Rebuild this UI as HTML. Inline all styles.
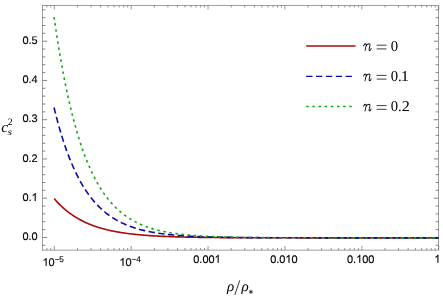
<!DOCTYPE html><html><head><meta charset="utf-8"><title>plot</title><style>html,body{margin:0;padding:0;background:#fff;overflow:hidden}svg{display:block}text{font-family:"Liberation Sans",sans-serif;text-rendering:geometricPrecision;stroke:#000;stroke-width:0.15px}.s{stroke:none}.s{font-family:"Liberation Serif",serif}</style></head><body>
<svg width="443" height="298" viewBox="0 0 443 298">
<defs><filter id="b" x="-5%" y="-5%" width="110%" height="110%" color-interpolation-filters="sRGB"><feGaussianBlur stdDeviation="0.35"/></filter>
<filter id="b2" x="-5%" y="-5%" width="110%" height="110%" color-interpolation-filters="sRGB"><feGaussianBlur stdDeviation="0.2"/></filter>
<clipPath id="c"><rect x="42.50" y="5.40" width="396.60" height="244.70"/></clipPath></defs>
<rect width="443" height="298" fill="#fff"/>
<g>
<path d="M42.50 245.30h2.90M438.50 245.30h-2.90M42.50 237.45h4.60M438.50 237.45h-4.60M42.50 229.60h2.90M438.50 229.60h-2.90M42.50 221.75h2.90M438.50 221.75h-2.90M42.50 213.90h2.90M438.50 213.90h-2.90M42.50 206.05h2.90M438.50 206.05h-2.90M42.50 198.20h4.60M438.50 198.20h-4.60M42.50 190.35h2.90M438.50 190.35h-2.90M42.50 182.50h2.90M438.50 182.50h-2.90M42.50 174.65h2.90M438.50 174.65h-2.90M42.50 166.80h2.90M438.50 166.80h-2.90M42.50 158.95h4.60M438.50 158.95h-4.60M42.50 151.10h2.90M438.50 151.10h-2.90M42.50 143.25h2.90M438.50 143.25h-2.90M42.50 135.40h2.90M438.50 135.40h-2.90M42.50 127.55h2.90M438.50 127.55h-2.90M42.50 119.70h4.60M438.50 119.70h-4.60M42.50 111.85h2.90M438.50 111.85h-2.90M42.50 104.00h2.90M438.50 104.00h-2.90M42.50 96.15h2.90M438.50 96.15h-2.90M42.50 88.30h2.90M438.50 88.30h-2.90M42.50 80.45h4.60M438.50 80.45h-4.60M42.50 72.60h2.90M438.50 72.60h-2.90M42.50 64.75h2.90M438.50 64.75h-2.90M42.50 56.90h2.90M438.50 56.90h-2.90M42.50 49.05h2.90M438.50 49.05h-2.90M42.50 41.20h4.60M438.50 41.20h-4.60M42.50 33.35h2.90M438.50 33.35h-2.90M42.50 25.50h2.90M438.50 25.50h-2.90M42.50 17.65h2.90M438.50 17.65h-2.90M42.50 9.80h2.90M438.50 9.80h-2.90" stroke="#4c4c4c" stroke-width="0.68" fill="none" filter="url(#b2)"/>
<path d="M46.85 250.10v-2.10M46.85 5.40v2.10M50.78 250.10v-2.10M50.78 5.40v2.10M54.30 250.10v-4.10M54.30 5.40v4.10M77.44 250.10v-2.10M77.44 5.40v2.10M90.98 250.10v-2.10M90.98 5.40v2.10M100.59 250.10v-2.10M100.59 5.40v2.10M108.04 250.10v-2.10M108.04 5.40v2.10M114.12 250.10v-2.10M114.12 5.40v2.10M119.27 250.10v-2.10M119.27 5.40v2.10M123.73 250.10v-2.10M123.73 5.40v2.10M127.66 250.10v-2.10M127.66 5.40v2.10M131.18 250.10v-4.10M131.18 5.40v4.10M154.32 250.10v-2.10M154.32 5.40v2.10M167.86 250.10v-2.10M167.86 5.40v2.10M177.47 250.10v-2.10M177.47 5.40v2.10M184.92 250.10v-2.10M184.92 5.40v2.10M191.00 250.10v-2.10M191.00 5.40v2.10M196.15 250.10v-2.10M196.15 5.40v2.10M200.61 250.10v-2.10M200.61 5.40v2.10M204.54 250.10v-2.10M204.54 5.40v2.10M208.06 250.10v-4.10M208.06 5.40v4.10M231.20 250.10v-2.10M231.20 5.40v2.10M244.74 250.10v-2.10M244.74 5.40v2.10M254.35 250.10v-2.10M254.35 5.40v2.10M261.80 250.10v-2.10M261.80 5.40v2.10M267.88 250.10v-2.10M267.88 5.40v2.10M273.03 250.10v-2.10M273.03 5.40v2.10M277.49 250.10v-2.10M277.49 5.40v2.10M281.42 250.10v-2.10M281.42 5.40v2.10M284.94 250.10v-4.10M284.94 5.40v4.10M308.08 250.10v-2.10M308.08 5.40v2.10M321.62 250.10v-2.10M321.62 5.40v2.10M331.23 250.10v-2.10M331.23 5.40v2.10M338.68 250.10v-2.10M338.68 5.40v2.10M344.76 250.10v-2.10M344.76 5.40v2.10M349.91 250.10v-2.10M349.91 5.40v2.10M354.37 250.10v-2.10M354.37 5.40v2.10M358.30 250.10v-2.10M358.30 5.40v2.10M361.82 250.10v-4.10M361.82 5.40v4.10M384.96 250.10v-2.10M384.96 5.40v2.10M398.50 250.10v-2.10M398.50 5.40v2.10M408.11 250.10v-2.10M408.11 5.40v2.10M415.56 250.10v-2.10M415.56 5.40v2.10M421.64 250.10v-2.10M421.64 5.40v2.10M426.79 250.10v-2.10M426.79 5.40v2.10M431.25 250.10v-2.10M431.25 5.40v2.10M435.18 250.10v-2.10M435.18 5.40v2.10M438.70 250.10v-4.10M438.70 5.40v4.10" stroke="#4c4c4c" stroke-width="0.58" fill="none" filter="url(#b2)"/>
<rect x="42.50" y="5.40" width="396.00" height="244.70" fill="none" stroke="#606060" stroke-width="0.6" filter="url(#b2)"/>
<g filter="url(#b)">
<g clip-path="url(#c)" fill="none" stroke-width="1.6">
<path d="M54.20 198.60 L55.16 199.71 L56.12 200.80 L57.08 201.85 L58.04 202.87 L59.00 203.86 L59.97 204.83 L60.93 205.76 L61.89 206.67 L62.85 207.56 L63.81 208.42 L64.77 209.25 L65.73 210.06 L66.69 210.85 L67.65 211.62 L68.62 212.36 L69.58 213.08 L70.54 213.79 L71.50 214.47 L72.46 215.13 L73.42 215.78 L74.38 216.40 L75.34 217.01 L76.30 217.60 L77.26 218.18 L78.22 218.74 L79.19 219.28 L80.15 219.81 L81.11 220.32 L82.07 220.82 L83.03 221.30 L83.99 221.77 L84.95 222.22 L85.91 222.67 L86.87 223.10 L87.84 223.52 L88.80 223.92 L89.76 224.32 L90.72 224.70 L91.68 225.08 L92.64 225.44 L93.60 225.79 L94.56 226.13 L95.52 226.46 L96.48 226.79 L97.44 227.10 L98.41 227.41 L99.37 227.70 L100.33 227.99 L101.29 228.27 L102.25 228.54 L103.21 228.81 L104.17 229.06 L105.13 229.31 L106.09 229.55 L107.06 229.79 L108.02 230.02 L108.98 230.24 L109.94 230.46 L110.90 230.67 L111.86 230.87 L112.82 231.07 L113.78 231.26 L114.74 231.45 L115.70 231.63 L116.66 231.81 L117.63 231.98 L118.59 232.14 L119.55 232.31 L120.51 232.46 L121.47 232.62 L122.43 232.76 L123.39 232.91 L124.35 233.05 L125.31 233.19 L126.27 233.32 L127.24 233.45 L128.20 233.57 L129.16 233.69 L130.12 233.81 L131.08 233.92 L132.04 234.04 L133.00 234.14 L133.96 234.25 L134.92 234.35 L135.89 234.45 L136.85 234.55 L137.81 234.64 L138.77 234.73 L139.73 234.82 L140.69 234.91 L141.65 234.99 L142.61 235.07 L143.57 235.15 L144.53 235.23 L145.49 235.30 L146.46 235.37 L147.42 235.44 L148.38 235.51 L149.34 235.58 L150.30 235.64 L151.26 235.71 L152.22 235.77 L153.18 235.83 L154.14 235.88 L155.10 235.94 L156.07 235.99 L157.03 236.05 L157.99 236.10 L158.95 236.15 L159.91 236.19 L160.87 236.24 L161.83 236.29 L162.79 236.33 L163.75 236.37 L164.72 236.42 L165.68 236.46 L166.64 236.50 L167.60 236.54 L168.56 236.57 L169.52 236.61 L170.48 236.64 L171.44 236.68 L172.40 236.71 L173.36 236.74 L174.33 236.78 L175.29 236.81 L176.25 236.84 L177.21 236.86 L178.17 236.89 L179.13 236.92 L180.09 236.95 L181.05 236.97 L182.01 237.00 L182.97 237.02 L183.93 237.04 L184.90 237.07 L185.86 237.09 L186.82 237.11 L187.78 237.13 L188.74 237.15 L189.70 237.17 L190.66 237.19 L191.62 237.21 L192.58 237.23 L193.54 237.25 L194.51 237.26 L195.47 237.28 L196.43 237.30 L197.39 237.31 L198.35 237.33 L199.31 237.34 L200.27 237.36 L201.23 237.37 L202.19 237.38 L203.16 237.40 L204.12 237.41 L205.08 237.42 L206.04 237.43 L207.00 237.45 L207.96 237.46 L208.92 237.47 L209.88 237.48 L210.84 237.49 L211.80 237.50 L212.77 237.51 L213.73 237.52 L214.69 237.53 L215.65 237.54 L216.61 237.55 L217.57 237.56 L218.53 237.56 L219.49 237.57 L220.45 237.58 L221.41 237.59 L222.37 237.60 L223.34 237.60 L224.30 237.61 L225.26 237.62 L226.22 237.62 L227.18 237.63 L228.14 237.64 L229.10 237.64 L230.06 237.65 L231.02 237.65 L231.98 237.66 L232.95 237.66 L233.91 237.67 L234.87 237.67 L235.83 237.68 L236.79 237.68 L237.75 237.69 L238.71 237.69 L239.67 237.70 L240.63 237.70 L241.59 237.71 L242.56 237.71 L243.52 237.71 L244.48 237.72 L245.44 237.72 L246.40 237.73 L247.36 237.73 L248.32 237.73 L249.28 237.74 L250.24 237.74 L251.21 237.74 L252.17 237.75 L253.13 237.75 L254.09 237.75 L255.05 237.75 L256.01 237.76 L256.97 237.76 L257.93 237.76 L258.89 237.76 L259.85 237.77 L260.81 237.77 L261.78 237.77 L262.74 237.77 L263.70 237.78 L264.66 237.78 L265.62 237.78 L266.58 237.78 L267.54 237.78 L268.50 237.79 L269.46 237.79 L270.42 237.79 L271.39 237.79 L272.35 237.79 L273.31 237.79 L274.27 237.80 L275.23 237.80 L276.19 237.80 L277.15 237.80 L278.11 237.80 L279.07 237.80 L280.03 237.80 L281.00 237.81 L281.96 237.81 L282.92 237.81 L283.88 237.81 L284.84 237.81 L285.80 237.81 L286.76 237.81 L287.72 237.81 L288.68 237.82 L289.64 237.82 L290.61 237.82 L291.57 237.82 L292.53 237.82 L293.49 237.82 L294.45 237.82 L295.41 237.82 L296.37 237.82 L297.33 237.82 L298.29 237.82 L299.25 237.82 L300.22 237.83 L301.18 237.83 L302.14 237.83 L303.10 237.83 L304.06 237.83 L305.02 237.83 L305.98 237.83 L306.94 237.83 L307.90 237.83 L308.86 237.83 L309.83 237.83 L310.79 237.83 L311.75 237.83 L312.71 237.83 L313.67 237.83 L314.63 237.83 L315.59 237.83 L316.55 237.83 L317.51 237.84 L318.47 237.84 L319.44 237.84 L320.40 237.84 L321.36 237.84 L322.32 237.84 L323.28 237.84 L324.24 237.84 L325.20 237.84 L326.16 237.84 L327.12 237.84 L328.08 237.84 L329.05 237.84 L330.01 237.84 L330.97 237.84 L331.93 237.84 L332.89 237.84 L333.85 237.84 L334.81 237.84 L335.77 237.84 L336.73 237.84 L337.69 237.84 L338.66 237.84 L339.62 237.84 L340.58 237.84 L341.54 237.84 L342.50 237.84 L343.46 237.84 L344.42 237.84 L345.38 237.84 L346.34 237.84 L347.30 237.84 L348.27 237.84 L349.23 237.84 L350.19 237.84 L351.15 237.84 L352.11 237.84 L353.07 237.84 L354.03 237.85 L354.99 237.85 L355.95 237.85 L356.91 237.85 L357.88 237.85 L358.84 237.85 L359.80 237.85 L360.76 237.85 L361.72 237.85 L362.68 237.85 L363.64 237.85 L364.60 237.85 L365.56 237.85 L366.52 237.85 L367.49 237.85 L368.45 237.85 L369.41 237.85 L370.37 237.85 L371.33 237.85 L372.29 237.85 L373.25 237.85 L374.21 237.85 L375.17 237.85 L376.13 237.85 L377.10 237.85 L378.06 237.85 L379.02 237.85 L379.98 237.85 L380.94 237.85 L381.90 237.85 L382.86 237.85 L383.82 237.85 L384.78 237.85 L385.74 237.85 L386.71 237.85 L387.67 237.85 L388.63 237.85 L389.59 237.85 L390.55 237.85 L391.51 237.85 L392.47 237.85 L393.43 237.85 L394.39 237.85 L395.35 237.85 L396.32 237.85 L397.28 237.85 L398.24 237.85 L399.20 237.85 L400.16 237.85 L401.12 237.85 L402.08 237.85 L403.04 237.85 L404.00 237.85 L404.96 237.85 L405.93 237.85 L406.89 237.85 L407.85 237.85 L408.81 237.85 L409.77 237.85 L410.73 237.85 L411.69 237.85 L412.65 237.85 L413.61 237.85 L414.57 237.85 L415.54 237.85 L416.50 237.85 L417.46 237.85 L418.42 237.85 L419.38 237.85 L420.34 237.85 L421.30 237.85 L422.26 237.85 L423.22 237.85 L424.18 237.85 L425.15 237.85 L426.11 237.85 L427.07 237.85 L428.03 237.85 L428.99 237.85 L429.95 237.85 L430.91 237.85 L431.87 237.85 L432.83 237.85 L433.79 237.85 L434.76 237.85 L435.72 237.85 L436.68 237.85 L437.64 237.85 L438.60 237.85" stroke="#aa0a0a"/>
<path d="M54.01 107.45 L54.20 108.22 L55.16 112.12 L56.12 115.90 L57.08 119.57 L58.04 123.13 L59.00 126.58 L59.97 129.92 L60.93 133.17 L61.89 136.32 L62.85 139.37 L63.81 142.34 L64.77 145.21 L65.73 148.00 L66.69 150.71 L67.65 153.33 L68.62 155.87 L69.58 158.34 L70.54 160.74 L71.50 163.06 L72.46 165.31 L73.42 167.50 L74.38 169.62 L75.34 171.67 L76.30 173.67 L77.26 175.60 L78.22 177.48 L79.19 179.30 L80.15 181.06 L81.11 182.77 L82.07 184.43 L83.03 186.05 L83.99 187.61 L84.95 189.12 L85.91 190.59 L86.87 192.02 L87.84 193.40 L88.80 194.74 L89.76 196.04 L90.72 197.31 L91.68 198.53 L92.64 199.72 L93.60 200.87 L94.56 201.98 L95.52 203.07 L96.48 204.12 L97.44 205.14 L98.41 206.13 L99.37 207.08 L100.33 208.01 L101.29 208.92 L102.25 209.79 L103.21 210.64 L104.17 211.46 L105.13 212.26 L106.09 213.03 L107.06 213.78 L108.02 214.51 L108.98 215.22 L109.94 215.90 L110.90 216.57 L111.86 217.21 L112.82 217.83 L113.78 218.44 L114.74 219.03 L115.70 219.60 L116.66 220.15 L117.63 220.69 L118.59 221.21 L119.55 221.71 L120.51 222.20 L121.47 222.67 L122.43 223.13 L123.39 223.58 L124.35 224.01 L125.31 224.43 L126.27 224.84 L127.24 225.23 L128.20 225.61 L129.16 225.99 L130.12 226.35 L131.08 226.69 L132.04 227.03 L133.00 227.36 L133.96 227.68 L134.92 227.99 L135.89 228.29 L136.85 228.58 L137.81 228.86 L138.77 229.13 L139.73 229.40 L140.69 229.65 L141.65 229.90 L142.61 230.14 L143.57 230.38 L144.53 230.61 L145.49 230.83 L146.46 231.04 L147.42 231.25 L148.38 231.45 L149.34 231.64 L150.30 231.83 L151.26 232.01 L152.22 232.19 L153.18 232.36 L154.14 232.53 L155.10 232.69 L156.07 232.85 L157.03 233.00 L157.99 233.15 L158.95 233.29 L159.91 233.43 L160.87 233.57 L161.83 233.70 L162.79 233.82 L163.75 233.95 L164.72 234.07 L165.68 234.18 L166.64 234.29 L167.60 234.40 L168.56 234.51 L169.52 234.61 L170.48 234.71 L171.44 234.80 L172.40 234.90 L173.36 234.99 L174.33 235.07 L175.29 235.16 L176.25 235.24 L177.21 235.32 L178.17 235.40 L179.13 235.47 L180.09 235.55 L181.05 235.62 L182.01 235.68 L182.97 235.75 L183.93 235.81 L184.90 235.88 L185.86 235.94 L186.82 236.00 L187.78 236.05 L188.74 236.11 L189.70 236.16 L190.66 236.21 L191.62 236.26 L192.58 236.31 L193.54 236.36 L194.51 236.40 L195.47 236.45 L196.43 236.49 L197.39 236.53 L198.35 236.57 L199.31 236.61 L200.27 236.65 L201.23 236.69 L202.19 236.72 L203.16 236.76 L204.12 236.79 L205.08 236.82 L206.04 236.86 L207.00 236.89 L207.96 236.92 L208.92 236.94 L209.88 236.97 L210.84 237.00 L211.80 237.02 L212.77 237.05 L213.73 237.07 L214.69 237.10 L215.65 237.12 L216.61 237.14 L217.57 237.17 L218.53 237.19 L219.49 237.21 L220.45 237.23 L221.41 237.25 L222.37 237.26 L223.34 237.28 L224.30 237.30 L225.26 237.32 L226.22 237.33 L227.18 237.35 L228.14 237.37 L229.10 237.38 L230.06 237.39 L231.02 237.41 L231.98 237.42 L232.95 237.44 L233.91 237.45 L234.87 237.46 L235.83 237.47 L236.79 237.48 L237.75 237.50 L238.71 237.51 L239.67 237.52 L240.63 237.53 L241.59 237.54 L242.56 237.55 L243.52 237.56 L244.48 237.57 L245.44 237.57 L246.40 237.58 L247.36 237.59 L248.32 237.60 L249.28 237.61 L250.24 237.61 L251.21 237.62 L252.17 237.63 L253.13 237.64 L254.09 237.64 L255.05 237.65 L256.01 237.66 L256.97 237.66 L257.93 237.67 L258.89 237.67 L259.85 237.68 L260.81 237.68 L261.78 237.69 L262.74 237.69 L263.70 237.70 L264.66 237.70 L265.62 237.71 L266.58 237.71 L267.54 237.72 L268.50 237.72 L269.46 237.72 L270.42 237.73 L271.39 237.73 L272.35 237.74 L273.31 237.74 L274.27 237.74 L275.23 237.75 L276.19 237.75 L277.15 237.75 L278.11 237.76 L279.07 237.76 L280.03 237.76 L281.00 237.76 L281.96 237.77 L282.92 237.77 L283.88 237.77 L284.84 237.77 L285.80 237.78 L286.76 237.78 L287.72 237.78 L288.68 237.78 L289.64 237.79 L290.61 237.79 L291.57 237.79 L292.53 237.79 L293.49 237.79 L294.45 237.80 L295.41 237.80 L296.37 237.80 L297.33 237.80 L298.29 237.80 L299.25 237.80 L300.22 237.80 L301.18 237.81 L302.14 237.81 L303.10 237.81 L304.06 237.81 L305.02 237.81 L305.98 237.81 L306.94 237.81 L307.90 237.81 L308.86 237.82 L309.83 237.82 L310.79 237.82 L311.75 237.82 L312.71 237.82 L313.67 237.82 L314.63 237.82 L315.59 237.82 L316.55 237.82 L317.51 237.82 L318.47 237.83 L319.44 237.83 L320.40 237.83 L321.36 237.83 L322.32 237.83 L323.28 237.83 L324.24 237.83 L325.20 237.83 L326.16 237.83 L327.12 237.83 L328.08 237.83 L329.05 237.83 L330.01 237.83 L330.97 237.83 L331.93 237.83 L332.89 237.83 L333.85 237.84 L334.81 237.84 L335.77 237.84 L336.73 237.84 L337.69 237.84 L338.66 237.84 L339.62 237.84 L340.58 237.84 L341.54 237.84 L342.50 237.84 L343.46 237.84 L344.42 237.84 L345.38 237.84 L346.34 237.84 L347.30 237.84 L348.27 237.84 L349.23 237.84 L350.19 237.84 L351.15 237.84 L352.11 237.84 L353.07 237.84 L354.03 237.84 L354.99 237.84 L355.95 237.84 L356.91 237.84 L357.88 237.84 L358.84 237.84 L359.80 237.84 L360.76 237.84 L361.72 237.84 L362.68 237.84 L363.64 237.84 L364.60 237.84 L365.56 237.84 L366.52 237.85 L367.49 237.85 L368.45 237.85 L369.41 237.85 L370.37 237.85 L371.33 237.85 L372.29 237.85 L373.25 237.85 L374.21 237.85 L375.17 237.85 L376.13 237.85 L377.10 237.85 L378.06 237.85 L379.02 237.85 L379.98 237.85 L380.94 237.85 L381.90 237.85 L382.86 237.85 L383.82 237.85 L384.78 237.85 L385.74 237.85 L386.71 237.85 L387.67 237.85 L388.63 237.85 L389.59 237.85 L390.55 237.85 L391.51 237.85 L392.47 237.85 L393.43 237.85 L394.39 237.85 L395.35 237.85 L396.32 237.85 L397.28 237.85 L398.24 237.85 L399.20 237.85 L400.16 237.85 L401.12 237.85 L402.08 237.85 L403.04 237.85 L404.00 237.85 L404.96 237.85 L405.93 237.85 L406.89 237.85 L407.85 237.85 L408.81 237.85 L409.77 237.85 L410.73 237.85 L411.69 237.85 L412.65 237.85 L413.61 237.85 L414.57 237.85 L415.54 237.85 L416.50 237.85 L417.46 237.85 L418.42 237.85 L419.38 237.85 L420.34 237.85 L421.30 237.85 L422.26 237.85 L423.22 237.85 L424.18 237.85 L425.15 237.85 L426.11 237.85 L427.07 237.85 L428.03 237.85 L428.99 237.85 L429.95 237.85 L430.91 237.85 L431.87 237.85 L432.83 237.85 L433.79 237.85 L434.76 237.85 L435.72 237.85 L436.68 237.85 L437.64 237.85 L438.60 237.85" stroke="#0a0aaa" stroke-dasharray="6.3 3.5"/>
<path d="M54.10 17.15 L54.20 17.85 L55.16 24.53 L56.12 31.01 L57.08 37.29 L58.04 43.38 L59.00 49.29 L59.97 55.02 L60.93 60.58 L61.89 65.97 L62.85 71.19 L63.81 76.26 L64.77 81.17 L65.73 85.94 L66.69 90.56 L67.65 95.04 L68.62 99.39 L69.58 103.60 L70.54 107.69 L71.50 111.65 L72.46 115.49 L73.42 119.22 L74.38 122.83 L75.34 126.33 L76.30 129.73 L77.26 133.02 L78.22 136.22 L79.19 139.31 L80.15 142.32 L81.11 145.23 L82.07 148.05 L83.03 150.79 L83.99 153.45 L84.95 156.02 L85.91 158.52 L86.87 160.94 L87.84 163.29 L88.80 165.56 L89.76 167.77 L90.72 169.91 L91.68 171.98 L92.64 173.99 L93.60 175.95 L94.56 177.84 L95.52 179.67 L96.48 181.45 L97.44 183.17 L98.41 184.84 L99.37 186.46 L100.33 188.04 L101.29 189.56 L102.25 191.04 L103.21 192.47 L104.17 193.86 L105.13 195.20 L106.09 196.51 L107.06 197.78 L108.02 199.00 L108.98 200.19 L109.94 201.35 L110.90 202.46 L111.86 203.55 L112.82 204.60 L113.78 205.62 L114.74 206.61 L115.70 207.57 L116.66 208.49 L117.63 209.39 L118.59 210.27 L119.55 211.11 L120.51 211.93 L121.47 212.73 L122.43 213.50 L123.39 214.25 L124.35 214.97 L125.31 215.68 L126.27 216.36 L127.24 217.02 L128.20 217.66 L129.16 218.28 L130.12 218.88 L131.08 219.46 L132.04 220.03 L133.00 220.58 L133.96 221.11 L134.92 221.63 L135.89 222.12 L136.85 222.61 L137.81 223.08 L138.77 223.53 L139.73 223.97 L140.69 224.40 L141.65 224.82 L142.61 225.22 L143.57 225.61 L144.53 225.99 L145.49 226.35 L146.46 226.71 L147.42 227.05 L148.38 227.38 L149.34 227.71 L150.30 228.02 L151.26 228.32 L152.22 228.62 L153.18 228.90 L154.14 229.18 L155.10 229.45 L156.07 229.71 L157.03 229.96 L157.99 230.20 L158.95 230.44 L159.91 230.67 L160.87 230.89 L161.83 231.11 L162.79 231.32 L163.75 231.52 L164.72 231.71 L165.68 231.90 L166.64 232.09 L167.60 232.27 L168.56 232.44 L169.52 232.61 L170.48 232.77 L171.44 232.93 L172.40 233.08 L173.36 233.23 L174.33 233.37 L175.29 233.51 L176.25 233.65 L177.21 233.78 L178.17 233.90 L179.13 234.03 L180.09 234.14 L181.05 234.26 L182.01 234.37 L182.97 234.48 L183.93 234.58 L184.90 234.69 L185.86 234.79 L186.82 234.88 L187.78 234.97 L188.74 235.06 L189.70 235.15 L190.66 235.23 L191.62 235.32 L192.58 235.39 L193.54 235.47 L194.51 235.55 L195.47 235.62 L196.43 235.69 L197.39 235.75 L198.35 235.82 L199.31 235.88 L200.27 235.95 L201.23 236.00 L202.19 236.06 L203.16 236.12 L204.12 236.17 L205.08 236.22 L206.04 236.28 L207.00 236.33 L207.96 236.37 L208.92 236.42 L209.88 236.46 L210.84 236.51 L211.80 236.55 L212.77 236.59 L213.73 236.63 L214.69 236.67 L215.65 236.71 L216.61 236.74 L217.57 236.78 L218.53 236.81 L219.49 236.84 L220.45 236.87 L221.41 236.91 L222.37 236.93 L223.34 236.96 L224.30 236.99 L225.26 237.02 L226.22 237.04 L227.18 237.07 L228.14 237.09 L229.10 237.12 L230.06 237.14 L231.02 237.16 L231.98 237.19 L232.95 237.21 L233.91 237.23 L234.87 237.25 L235.83 237.27 L236.79 237.28 L237.75 237.30 L238.71 237.32 L239.67 237.34 L240.63 237.35 L241.59 237.37 L242.56 237.38 L243.52 237.40 L244.48 237.41 L245.44 237.43 L246.40 237.44 L247.36 237.45 L248.32 237.47 L249.28 237.48 L250.24 237.49 L251.21 237.50 L252.17 237.51 L253.13 237.52 L254.09 237.53 L255.05 237.54 L256.01 237.55 L256.97 237.56 L257.93 237.57 L258.89 237.58 L259.85 237.59 L260.81 237.60 L261.78 237.61 L262.74 237.61 L263.70 237.62 L264.66 237.63 L265.62 237.64 L266.58 237.64 L267.54 237.65 L268.50 237.66 L269.46 237.66 L270.42 237.67 L271.39 237.67 L272.35 237.68 L273.31 237.68 L274.27 237.69 L275.23 237.70 L276.19 237.70 L277.15 237.71 L278.11 237.71 L279.07 237.71 L280.03 237.72 L281.00 237.72 L281.96 237.73 L282.92 237.73 L283.88 237.73 L284.84 237.74 L285.80 237.74 L286.76 237.75 L287.72 237.75 L288.68 237.75 L289.64 237.76 L290.61 237.76 L291.57 237.76 L292.53 237.76 L293.49 237.77 L294.45 237.77 L295.41 237.77 L296.37 237.77 L297.33 237.78 L298.29 237.78 L299.25 237.78 L300.22 237.78 L301.18 237.79 L302.14 237.79 L303.10 237.79 L304.06 237.79 L305.02 237.79 L305.98 237.80 L306.94 237.80 L307.90 237.80 L308.86 237.80 L309.83 237.80 L310.79 237.80 L311.75 237.81 L312.71 237.81 L313.67 237.81 L314.63 237.81 L315.59 237.81 L316.55 237.81 L317.51 237.81 L318.47 237.82 L319.44 237.82 L320.40 237.82 L321.36 237.82 L322.32 237.82 L323.28 237.82 L324.24 237.82 L325.20 237.82 L326.16 237.82 L327.12 237.82 L328.08 237.83 L329.05 237.83 L330.01 237.83 L330.97 237.83 L331.93 237.83 L332.89 237.83 L333.85 237.83 L334.81 237.83 L335.77 237.83 L336.73 237.83 L337.69 237.83 L338.66 237.83 L339.62 237.83 L340.58 237.83 L341.54 237.83 L342.50 237.83 L343.46 237.84 L344.42 237.84 L345.38 237.84 L346.34 237.84 L347.30 237.84 L348.27 237.84 L349.23 237.84 L350.19 237.84 L351.15 237.84 L352.11 237.84 L353.07 237.84 L354.03 237.84 L354.99 237.84 L355.95 237.84 L356.91 237.84 L357.88 237.84 L358.84 237.84 L359.80 237.84 L360.76 237.84 L361.72 237.84 L362.68 237.84 L363.64 237.84 L364.60 237.84 L365.56 237.84 L366.52 237.84 L367.49 237.84 L368.45 237.84 L369.41 237.84 L370.37 237.84 L371.33 237.84 L372.29 237.84 L373.25 237.85 L374.21 237.85 L375.17 237.85 L376.13 237.85 L377.10 237.85 L378.06 237.85 L379.02 237.85 L379.98 237.85 L380.94 237.85 L381.90 237.85 L382.86 237.85 L383.82 237.85 L384.78 237.85 L385.74 237.85 L386.71 237.85 L387.67 237.85 L388.63 237.85 L389.59 237.85 L390.55 237.85 L391.51 237.85 L392.47 237.85 L393.43 237.85 L394.39 237.85 L395.35 237.85 L396.32 237.85 L397.28 237.85 L398.24 237.85 L399.20 237.85 L400.16 237.85 L401.12 237.85 L402.08 237.85 L403.04 237.85 L404.00 237.85 L404.96 237.85 L405.93 237.85 L406.89 237.85 L407.85 237.85 L408.81 237.85 L409.77 237.85 L410.73 237.85 L411.69 237.85 L412.65 237.85 L413.61 237.85 L414.57 237.85 L415.54 237.85 L416.50 237.85 L417.46 237.85 L418.42 237.85 L419.38 237.85 L420.34 237.85 L421.30 237.85 L422.26 237.85 L423.22 237.85 L424.18 237.85 L425.15 237.85 L426.11 237.85 L427.07 237.85 L428.03 237.85 L428.99 237.85 L429.95 237.85 L430.91 237.85 L431.87 237.85 L432.83 237.85 L433.79 237.85 L434.76 237.85 L435.72 237.85 L436.68 237.85 L437.64 237.85 L438.60 237.85" stroke="#0aaa0a" stroke-dasharray="2.5 3.62"/>
</g>
<text x="22.48" y="240.20" font-size="10.95">0</text><text x="28.57" y="240.20" font-size="10.95">.</text><text x="31.61" y="240.20" font-size="10.95">0</text>
<text x="22.48" y="200.95" font-size="10.95">0</text><text x="28.57" y="200.95" font-size="10.95">.</text><path transform="translate(31.61 200.95) scale(0.00535 -0.00535)" d="M763 0H583V1147Q518 1085 412.5 1023Q307 961 223 930V1104Q374 1175 487 1276Q600 1377 647 1472H763Z" fill="#000" stroke="#000" stroke-width="28"/>
<text x="22.48" y="161.70" font-size="10.95">0</text><text x="28.57" y="161.70" font-size="10.95">.</text><text x="31.61" y="161.70" font-size="10.95">2</text>
<text x="22.48" y="122.45" font-size="10.95">0</text><text x="28.57" y="122.45" font-size="10.95">.</text><text x="31.61" y="122.45" font-size="10.95">3</text>
<text x="22.48" y="83.20" font-size="10.95">0</text><text x="28.57" y="83.20" font-size="10.95">.</text><text x="31.61" y="83.20" font-size="10.95">4</text>
<text x="22.48" y="43.95" font-size="10.95">0</text><text x="28.57" y="43.95" font-size="10.95">.</text><text x="31.61" y="43.95" font-size="10.95">5</text>
<path transform="translate(42.50 265.80) scale(0.00537 -0.00537)" d="M763 0H583V1147Q518 1085 412.5 1023Q307 961 223 930V1104Q374 1175 487 1276Q600 1377 647 1472H763Z" fill="#000" stroke="#000" stroke-width="28"/><text x="48.62" y="265.80" font-size="11">0</text>
<text x="54.63" y="262.30" font-size="8.1">−</text>
<text x="59.36" y="261.60" font-size="8.1">5</text>
<path transform="translate(119.38 265.80) scale(0.00537 -0.00537)" d="M763 0H583V1147Q518 1085 412.5 1023Q307 961 223 930V1104Q374 1175 487 1276Q600 1377 647 1472H763Z" fill="#000" stroke="#000" stroke-width="28"/><text x="125.50" y="265.80" font-size="11">0</text>
<text x="131.51" y="262.30" font-size="8.1">−</text>
<text x="136.24" y="261.60" font-size="8.1">4</text>
<text x="193.26" y="262.70" font-size="10.95">0</text><text x="199.35" y="262.70" font-size="10.95">.</text><text x="202.39" y="262.70" font-size="10.95">0</text><text x="208.48" y="262.70" font-size="10.95">0</text><path transform="translate(214.57 262.70) scale(0.00535 -0.00535)" d="M763 0H583V1147Q518 1085 412.5 1023Q307 961 223 930V1104Q374 1175 487 1276Q600 1377 647 1472H763Z" fill="#000" stroke="#000" stroke-width="28"/>
<text x="270.14" y="262.70" font-size="10.95">0</text><text x="276.23" y="262.70" font-size="10.95">.</text><text x="279.27" y="262.70" font-size="10.95">0</text><path transform="translate(285.36 262.70) scale(0.00535 -0.00535)" d="M763 0H583V1147Q518 1085 412.5 1023Q307 961 223 930V1104Q374 1175 487 1276Q600 1377 647 1472H763Z" fill="#000" stroke="#000" stroke-width="28"/><text x="291.45" y="262.70" font-size="10.95">0</text>
<text x="347.02" y="262.70" font-size="10.95">0</text><text x="353.11" y="262.70" font-size="10.95">.</text><path transform="translate(356.15 262.70) scale(0.00535 -0.00535)" d="M763 0H583V1147Q518 1085 412.5 1023Q307 961 223 930V1104Q374 1175 487 1276Q600 1377 647 1472H763Z" fill="#000" stroke="#000" stroke-width="28"/><text x="362.24" y="262.70" font-size="10.95">0</text><text x="368.33" y="262.70" font-size="10.95">0</text>
<path transform="translate(434.31 262.70) scale(0.00535 -0.00535)" d="M763 0H583V1147Q518 1085 412.5 1023Q307 961 223 930V1104Q374 1175 487 1276Q600 1377 647 1472H763Z" fill="#000" stroke="#000" stroke-width="28"/>
<text class="s" transform="translate(1.15 131.55) scale(1.04 1)" font-size="15" font-style="italic">c</text>
<text class="s" x="7.75" y="124.8" font-size="9.8">2</text>
<text class="s" transform="translate(7.6 134.6) scale(1.22 1)" font-size="9.5" font-style="italic">s</text>
<text class="s" transform="translate(227.0 291) scale(1.04 1)" font-size="14.5" font-style="italic">ρ</text>
<path d="M239.7 280.4L234.8 295" stroke="#000" stroke-width="0.8" fill="none"/>
<text class="s" transform="translate(241.55 291) scale(1.04 1)" font-size="14.5" font-style="italic">ρ</text>
<path d="M250.90 289.70L250.90 294.00M249.04 290.78L252.76 292.93M249.04 292.93L252.76 290.78" stroke="#000" stroke-width="0.7" fill="none"/>
<path d="M306.2 46.00H355.5" stroke="#aa0a0a" stroke-width="1.35" fill="none"/>
<path transform="translate(363.2 50.50) scale(0.93 1.07)" d="M0.4 -4.3C0.9 -5.6 1.6 -6.3 2.4 -6.3C3.2 -6.3 3.4 -5.6 3.2 -4.8L2.0 0M2.9 -3.8C3.8 -5.4 5.0 -6.3 6.1 -6.3C7.2 -6.3 7.5 -5.5 7.2 -4.4L6.4 -1.4C6.2 -0.5 6.4 0 7.0 0C7.7 0 8.2 -0.8 8.5 -1.8" stroke="#000" stroke-width="0.95" fill="none" stroke-linecap="round" stroke-linejoin="round"/>
<path d="M376.7 45.20h9.8M376.7 48.90h9.8" stroke="#000" stroke-width="0.75" fill="none"/>
<text class="s" transform="translate(390.70 50.60) scale(0.98 1)" font-size="15">0</text>
<path d="M306.2 76.30H355.5" stroke="#0a0aaa" stroke-width="1.35" fill="none" stroke-dasharray="6.3 3.55"/>
<path transform="translate(363.2 80.70) scale(0.93 1.07)" d="M0.4 -4.3C0.9 -5.6 1.6 -6.3 2.4 -6.3C3.2 -6.3 3.4 -5.6 3.2 -4.8L2.0 0M2.9 -3.8C3.8 -5.4 5.0 -6.3 6.1 -6.3C7.2 -6.3 7.5 -5.5 7.2 -4.4L6.4 -1.4C6.2 -0.5 6.4 0 7.0 0C7.7 0 8.2 -0.8 8.5 -1.8" stroke="#000" stroke-width="0.95" fill="none" stroke-linecap="round" stroke-linejoin="round"/>
<path d="M376.7 75.40h9.8M376.7 79.10h9.8" stroke="#000" stroke-width="0.75" fill="none"/>
<text class="s" transform="translate(390.70 80.80) scale(0.98 1)" font-size="15">0</text>
<text class="s" transform="translate(398.10 80.80) scale(0.98 1)" font-size="15">.</text>
<text class="s" transform="translate(400.70 80.80) scale(1.1 1)" font-size="15">1</text>
<path d="M306.2 106.50H355.5" stroke="#0aaa0a" stroke-width="1.35" fill="none" stroke-dasharray="2.5 3.65"/>
<path transform="translate(363.2 110.90) scale(0.93 1.07)" d="M0.4 -4.3C0.9 -5.6 1.6 -6.3 2.4 -6.3C3.2 -6.3 3.4 -5.6 3.2 -4.8L2.0 0M2.9 -3.8C3.8 -5.4 5.0 -6.3 6.1 -6.3C7.2 -6.3 7.5 -5.5 7.2 -4.4L6.4 -1.4C6.2 -0.5 6.4 0 7.0 0C7.7 0 8.2 -0.8 8.5 -1.8" stroke="#000" stroke-width="0.95" fill="none" stroke-linecap="round" stroke-linejoin="round"/>
<path d="M376.7 105.60h9.8M376.7 109.30h9.8" stroke="#000" stroke-width="0.75" fill="none"/>
<text class="s" transform="translate(390.70 111.00) scale(0.98 1)" font-size="15">0</text>
<text class="s" transform="translate(398.10 111.00) scale(0.98 1)" font-size="15">.</text>
<text class="s" transform="translate(401.75 111.00) scale(1.08 1)" font-size="15">2</text>
</g>
</g>
</svg></body></html>
